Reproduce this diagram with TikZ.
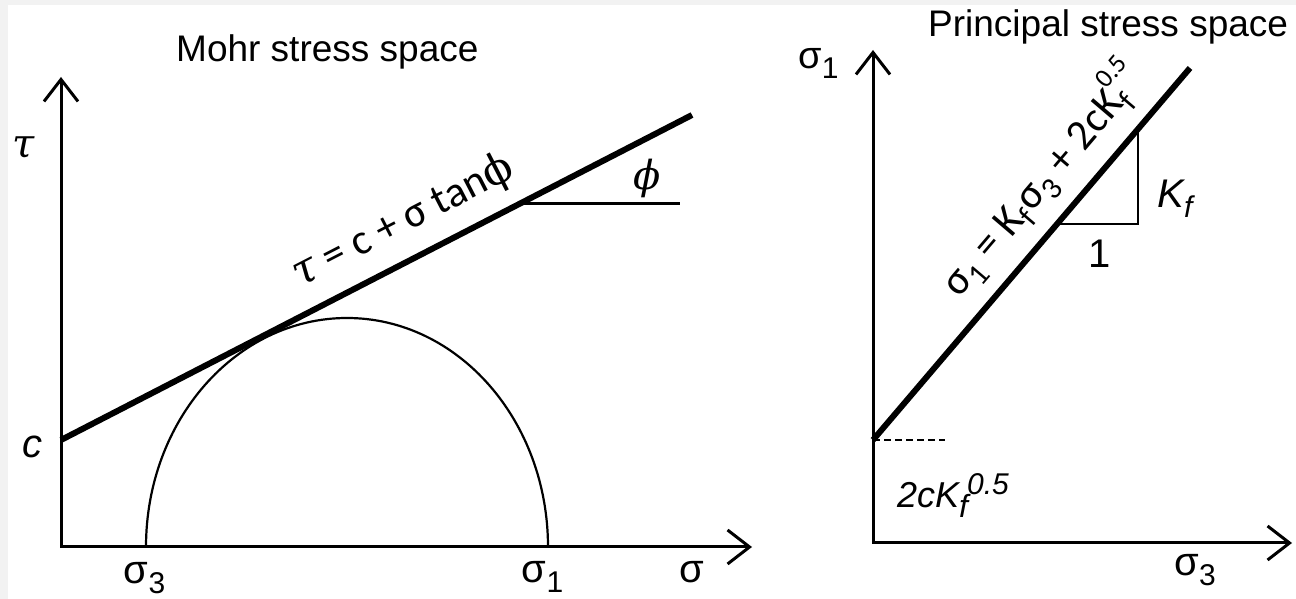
\documentclass[tikz,border=0pt]{standalone}
\usepackage{fontspec}
\usepackage{graphicx}
\setmainfont{Liberation Sans}
\newfontfamily\calfont{Carlito}
\newfontfamily\grk{DejaVu Serif}
\usetikzlibrary{arrows.meta,calc}
\definecolor{bggray}{HTML}{F2F2F2}
\newcommand\lsub[1]{\raisebox{-10pt}{\fontsize{30}{32}\selectfont #1}}
\newcommand\esub[1]{\raisebox{-0.22em}{\scalebox{0.72}{#1}}}
\newcommand\esup[1]{\raisebox{0.55em}{\scalebox{0.62}{#1}}}
\begin{document}
\begin{tikzpicture}[x=1pt,y=1pt,
  barb/.tip={Straight Barb[length=22pt,width=34pt,line width=3pt]},
  axis/.style={line width=3pt, barb-barb, line join=miter},
  envelope/.style={line width=6pt},
  thinline/.style={line width=2.5pt},
  title/.style={font=\fontsize{37}{40}\selectfont, inner sep=0pt, anchor=base west},
  lbl/.style={font=\fontsize{40}{44}\selectfont, inner sep=0pt},
  eqn/.style={font=\calfont\fontsize{43}{46}\selectfont, inner sep=0pt}]
\fill[bggray] (0,0) rectangle (1296,599);
\fill[white] (8,0) rectangle (1296,594);
\useasboundingbox (0,0) rectangle (1296,599);

% ---------- Mohr stress space ----------
\node[title] (title1) at (176,537) {Mohr stress space};
\coordinate (O1) at (61,52);
\coordinate (Ty) at (61,522);
\coordinate (Sx) at (752,52);
\draw[axis] (Ty) -- (O1) -- (Sx);
\coordinate (c1) at (61,159);
\coordinate (e1) at (692,484);
\coordinate (s3) at (146,52);
\draw[line width=2.2pt] (s3) arc[start angle=180,end angle=0,x radius=201,y radius=229];
\draw[envelope] (c1) -- (e1)
  node[pos=0.57, sloped, above=14pt, eqn] (eq1) {\grk\itshape τ\calfont\upshape{} = c + σ tan\grk ϕ};
\coordinate (h1) at ($(c1)!0.7274!(e1)$);
\coordinate (h2) at (680,0);
\draw[thinline] (h1) -- (h1 -| h2);
\node[lbl] (phi) at (647.5,421) {\grk\itshape ϕ};
\node[lbl] (tau) at (24,451) {\grk\itshape τ};
\node[lbl] (clab) at (33,152) {\itshape c};
\node[lbl] (sig3) at (144.5,21) {σ\lsub{3}};
\node[lbl] (sig1) at (542.5,22) {σ\lsub{1}};
\node[lbl] (sig) at (691.5,27) {σ};

% ---------- Principal stress space ----------
\node[title] (title2) at (928,562) {Principal stress space};
\coordinate (O2) at (873,56);
\coordinate (S1y) at (873,549);
\coordinate (S3x) at (1292,56);
\draw[axis] (S1y) -- (O2) -- (S3x);
\coordinate (i2) at (873,159);
\coordinate (e2) at (1190,531);
\draw[envelope] (i2) -- (e2)
  node[pos=0.63, sloped, above=13pt, eqn] (eq2)
  {σ\esub{1} = K\esub{f}\kern0.04emσ\esub{3} + 2cK\rlap{\esub{f}}\esup{0.5}};
\coordinate (tA) at ($(i2)!0.5806!(e2)$);
\coordinate (tC) at ($(i2)!0.8360!(e2)$);
\draw[thinline] (tA) -- (tA -| tC) -- (tC);
\draw[line width=2pt, dash pattern=on 7pt off 4pt] (i2) -- (945,159);
\node[lbl] (kf) at (1175,400.5) {\itshape K\lsub{f}};
\node[lbl] (one) at (1099.5,345.5) {1};
\node[font=\fontsize{36}{40}\selectfont, inner sep=0pt, anchor=base west] (icpt) at (897,91)
  {\itshape 2cK\raisebox{-10pt}{\fontsize{32}{34}\selectfont f}\kern-1pt\raisebox{13pt}{\fontsize{30}{32}\selectfont 0.5}};
\node[font=\fontsize{38}{42}\selectfont, inner sep=0pt] (s1lab) at (818.5,536) {σ\lsub{1}};
\node[lbl] (s3lab) at (1195,29) {σ\lsub{3}};
\end{tikzpicture}
\end{document}
